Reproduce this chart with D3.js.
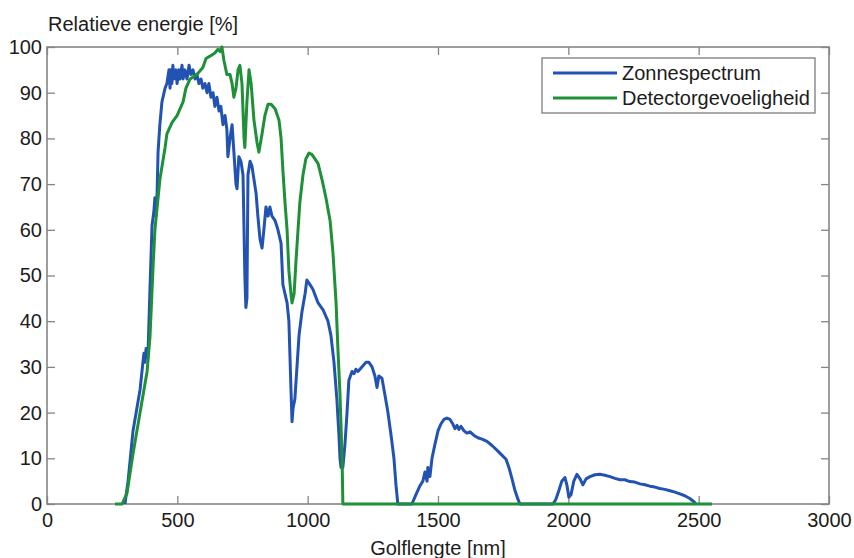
<!DOCTYPE html>
<html>
<head>
<meta charset="utf-8">
<script src="https://cdn.jsdelivr.net/npm/d3@7"></script>
<style>
  html, body { margin: 0; padding: 0; background: #ffffff; }
  svg { display: block; font-family: "Liberation Sans", Arial, Helvetica, sans-serif; }
</style>
</head>
<body>
<svg id="chart" width="854" height="558"></svg>
<script>
// Solar spectrum (relative energy, %) against wavelength (nm)
const zonWavelength = [
  299, 311, 330, 345, 357, 368, 372, 376, 380, 387, 395, 403, 410, 414, 418, 422, 426, 433, 441, 453,
  460, 468, 472, 476, 479, 483, 487, 495, 499, 506, 510, 518, 522, 529, 537, 545, 552, 560, 568, 575,
  583, 591, 598, 606, 614, 621, 629, 637, 644, 652, 660, 667, 675, 683, 690, 694, 702, 710, 717, 725,
  729, 736, 744, 752, 759, 763, 767, 771, 779, 786, 794, 802, 809, 817, 825, 832, 840, 848, 855, 863,
  875, 886, 898, 905, 913, 921, 928, 936, 940, 944, 951, 959, 967, 978, 990, 997, 1009, 1020, 1040, 1059,
  1078, 1089, 1101, 1112, 1120, 1124, 1128, 1132, 1135, 1143, 1151, 1158, 1170, 1178, 1185, 1193, 1208, 1224, 1235, 1247,
  1258, 1266, 1273, 1285, 1296, 1308, 1320, 1331, 1339, 1346, 1400, 1415, 1431, 1442, 1450, 1458, 1461, 1469, 1477, 1488,
  1500, 1511, 1523, 1534, 1546, 1557, 1565, 1573, 1580, 1588, 1600, 1611, 1623, 1638, 1653, 1669, 1688, 1707, 1726, 1745,
  1761, 1772, 1784, 1795, 1807, 1814, 1941, 1952, 1964, 1975, 1987, 1995, 2002, 2010, 2021, 2033, 2045, 2056, 2068, 2083,
  2102, 2121, 2140, 2160, 2179, 2198, 2217, 2236, 2255, 2275, 2294, 2313, 2332, 2351, 2370, 2390, 2409, 2428, 2447, 2466,
  2482, 2489
];
const zonValues = [
  0, 5, 16, 21, 25, 31, 33, 31, 34, 32, 47, 61, 64, 67, 63, 67, 77, 83, 88, 91,
  92, 95, 91, 95, 92, 96, 93, 95, 92, 95, 93, 96, 93, 95, 93, 96, 94, 95, 93, 94,
  92, 93, 91, 92, 90, 92, 89, 90, 87, 89, 86, 87, 83, 85, 82, 76, 80, 83, 77, 70,
  69, 76, 75, 72, 50, 43, 45, 72, 75, 74, 71, 68, 63, 58, 56, 60, 65, 63, 65, 63,
  62, 60, 57, 48, 46, 44, 40, 25, 18, 21, 23, 30, 37, 42, 46, 49, 48, 47, 44, 42.5,
  40, 37, 31, 23, 15, 10, 8, 11, 8, 13, 20, 27, 29, 28.5, 29.5, 29, 30, 31, 31, 30,
  28, 25.5, 28, 27.5, 24, 20, 15, 10, 4, 0, 0, 2, 4, 5, 7, 5, 8, 6, 10, 13,
  16, 17.5, 18.5, 18.8, 18.5, 17.5, 16.5, 17.2, 16.3, 17, 16, 15.5, 15.8, 15, 14.5, 14.2, 13.7, 12.8, 11.8, 10.7,
  9.8, 8, 5.5, 3, 1, 0, 0, 1, 3, 5, 5.8, 4, 1.5, 2, 5, 6.5, 5.5, 4.2, 5.5, 6,
  6.4, 6.5, 6.3, 6, 5.6, 5.3, 5.3, 4.9, 4.8, 4.4, 4.2, 3.9, 3.7, 3.4, 3.2, 2.9, 2.6, 2.2, 1.8, 1.2,
  0.5, 0
];

// Detector sensitivity (relative, %) against wavelength (nm)
const detWavelength = [
  261, 288, 307, 330, 357, 384, 395, 407, 414, 433, 453, 460, 480, 499, 522, 533, 549, 575, 598, 610,
  625, 644, 656, 664, 671, 679, 690, 702, 710, 717, 725, 733, 740, 748, 756, 759, 767, 775, 783, 794,
  806, 813, 825, 836, 848, 859, 875, 890, 898, 905, 913, 921, 928, 936, 940, 948, 955, 963, 970, 982,
  993, 1005, 1016, 1028, 1040, 1055, 1070, 1086, 1097, 1109, 1116, 1124, 1132, 1135, 2551
];
const detValues = [
  0, 0, 2.4, 11, 20, 29, 36.5, 52, 60, 71, 78, 81, 83.5, 85, 88, 91, 93, 94, 95.5, 97.5,
  98, 98.7, 99.5, 99, 100, 97, 94, 94, 92, 89, 91, 95, 96, 92, 80, 78, 88, 95, 92, 84,
  79, 77, 81, 85, 87.5, 87.5, 86.5, 84, 80, 73, 66, 60, 51, 46, 44, 46, 53, 60, 66, 72,
  75.5, 76.8, 76.5, 75.5, 74.5, 71, 67, 62, 55, 44, 34, 24, 10, 0, 0
];

const xTicks = [0, 500, 1000, 1500, 2000, 2500, 3000];
const yTicks = [0, 10, 20, 30, 40, 50, 60, 70, 80, 90, 100];

const seriesNames = ["Zonnespectrum", "Detectorgevoeligheid"];
const seriesColors = ["#2253b2", "#1e9138"];

const plot = { left: 47, top: 47, right: 829, bottom: 504 };
const frameColor = "#858585";
const textColor = "#1c1c1c";
const fontSize = "20px";

const svg = d3.select("#chart");

const x = d3.scaleLinear().domain([0, 3000]).range([plot.left, plot.right]);
const y = d3.scaleLinear().domain([0, 100]).range([plot.bottom, plot.top]);

// Box frame
svg.append("rect")
  .attr("x", plot.left).attr("y", plot.top)
  .attr("width", plot.right - plot.left).attr("height", plot.bottom - plot.top)
  .attr("fill", "none").attr("stroke", frameColor).attr("stroke-width", 1.6);

function styleAxis(g, showLabels) {
  g.select(".domain").remove();
  g.selectAll(".tick line").attr("stroke", frameColor).attr("stroke-width", 1.3);
  g.selectAll(".tick text")
    .attr("fill", textColor)
    .style("font-size", fontSize)
    .style("display", showLabels ? null : "none");
}

// Inward ticks on all four sides
svg.append("g").attr("transform", `translate(0,${plot.bottom})`)
  .call(d3.axisBottom(x).tickValues(xTicks).tickSize(-8).tickPadding(9).tickFormat(d3.format("d")))
  .call(g => styleAxis(g, true))
  .call(g => g.selectAll(".tick text").attr("dy", "0.71em"));

svg.append("g").attr("transform", `translate(0,${plot.top})`)
  .call(d3.axisTop(x).tickValues(xTicks).tickSize(-8))
  .call(g => styleAxis(g, false));

svg.append("g").attr("transform", `translate(${plot.left},0)`)
  .call(d3.axisLeft(y).tickValues(yTicks).tickSize(-8).tickPadding(5).tickFormat(d3.format("d")))
  .call(g => styleAxis(g, true));

svg.append("g").attr("transform", `translate(${plot.right},0)`)
  .call(d3.axisRight(y).tickValues(yTicks).tickSize(-8))
  .call(g => styleAxis(g, false));

// Data lines
const line = d3.line().x(d => x(d[0])).y(d => y(d[1]));
const zonData = d3.zip(zonWavelength, zonValues);
const detData = d3.zip(detWavelength, detValues);

svg.append("path").datum(zonData)
  .attr("d", line).attr("fill", "none")
  .attr("stroke", seriesColors[0]).attr("stroke-width", 3)
  .attr("stroke-linejoin", "round");

svg.append("path").datum(detData)
  .attr("d", line).attr("fill", "none")
  .attr("stroke", seriesColors[1]).attr("stroke-width", 3)
  .attr("stroke-linejoin", "round");

// Axis titles
svg.append("text")
  .attr("x", 48).attr("y", 31)
  .attr("fill", textColor).style("font-size", fontSize)
  .text("Relatieve energie [%]");

svg.append("text")
  .attr("x", (plot.left + plot.right) / 2).attr("y", 555)
  .attr("text-anchor", "middle")
  .attr("fill", textColor).style("font-size", fontSize)
  .text("Golflengte [nm]");

// Legend
const legend = svg.append("g");
legend.append("rect")
  .attr("x", 542).attr("y", 58).attr("width", 273).attr("height", 55)
  .attr("fill", "#ffffff").attr("stroke", frameColor).attr("stroke-width", 1.4);

seriesNames.forEach((name, i) => {
  const ly = 73 + i * 25;
  legend.append("line")
    .attr("x1", 553).attr("x2", 617).attr("y1", ly).attr("y2", ly)
    .attr("stroke", seriesColors[i]).attr("stroke-width", 3);
  legend.append("text")
    .attr("x", 622).attr("y", ly).attr("dy", "0.35em")
    .attr("fill", textColor).style("font-size", fontSize)
    .text(name);
});
</script>
</body>
</html>
